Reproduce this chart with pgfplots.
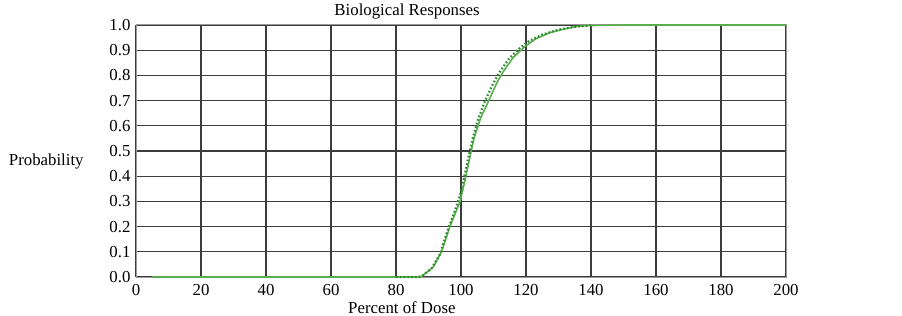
\documentclass[border=0pt]{standalone}
\usepackage{fontspec}
\setmainfont{Liberation Serif}
\usepackage{pgfplots}
\pgfplotsset{compat=1.18}
\definecolor{gridc}{HTML}{3C3C3C}
\definecolor{axc}{HTML}{9A9A9A}
\definecolor{fitgreen}{HTML}{5AAE50}
\definecolor{obsgreen}{HTML}{2A8A2A}
\begin{document}
\begin{tikzpicture}
\path[use as bounding box] (0,0) rectangle (902bp,316bp);
\begin{axis}[
  at={(136bp,39bp)}, anchor=south west,
  scale only axis, width=650bp, height=252bp,
  xmin=0, xmax=200, ymin=0, ymax=1,
  xtick={0,20,...,200},
  ytick={0,0.1,...,1.0},
  yticklabel style={xshift=-2bp, /pgf/number format/.cd, fixed, fixed zerofill, precision=1},
  /pgf/number format/assume math mode=true,
  tick label style={font=\fontsize{16.8bp}{20bp}\selectfont},
  xticklabel style={yshift=-3.5bp},
  major tick length=0pt,
  grid=major,
  major grid style={gridc, line width=1.2bp},
  axis line style={axc, line width=1bp},
  title={Biological Responses},
  title style={font=\fontsize{16.8bp}{20bp}\selectfont, at={(axis description cs:0.417,1)}, anchor=base, yshift=4bp},
  xlabel={Percent of Dose},
  xlabel style={font=\fontsize{16.8bp}{20bp}\selectfont, at={(axis description cs:0.409,0)}, anchor=base, yshift=-36bp},
  ylabel={Probability},
  ylabel style={font=\fontsize{16.8bp}{20bp}\selectfont, at={(axis description cs:-0.138,0.46)}, anchor=center, rotate=-90},
  clip=false,
]
\addplot[fitgreen, line width=1.6bp] coordinates {
(5,0) (87,0) (88,0.003) (91.5,0.04) (94,0.1) (96.6,0.2) (99.7,0.3) (101,0.37)
(102.8,0.48) (104,0.55) (106,0.63) (108.9,0.71) (111,0.77) (113,0.815)
(116,0.87) (119.7,0.915) (123,0.945) (127.4,0.97) (132,0.985) (136,0.995)
(140,0.998) (150,1) (200,1)
};
\addplot[obsgreen, line width=2.2bp, dash pattern=on 1.6bp off 2.2bp] coordinates {
(80,0) (87,0) (88,0.004) (91,0.035) (93.5,0.09) (96,0.19) (98.3,0.27) (99.8,0.33)
(101.2,0.41) (102.2,0.47) (103.6,0.55) (105.1,0.62) (107.1,0.69) (109.6,0.76)
(111.7,0.81) (114.7,0.865) (117.8,0.905) (121,0.937) (125,0.962) (130,0.981) (135,0.993) (140,0.998)
};
\end{axis}
\end{tikzpicture}
\end{document}
